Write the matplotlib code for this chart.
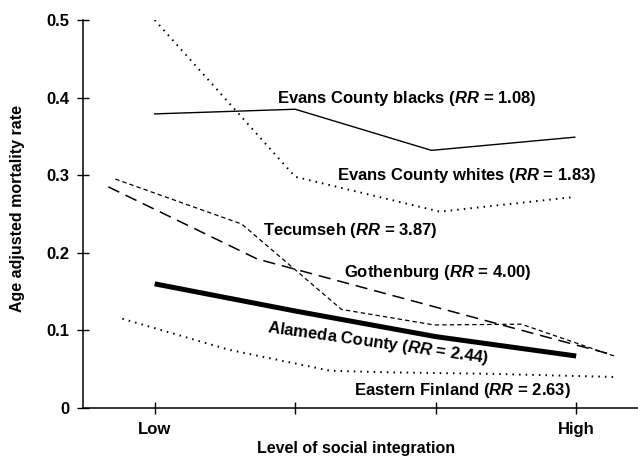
import numpy as np
import matplotlib.pyplot as plt

plt.rcParams['font.family'] = ['Liberation Sans', 'DejaVu Sans']
plt.rcParams['font.weight'] = 'bold'
plt.rcParams['mathtext.fontset'] = 'custom'
plt.rcParams['mathtext.it'] = 'Liberation Sans:italic:bold'
plt.rcParams['mathtext.rm'] = 'Liberation Sans:bold'

# x runs from Low (1) to High (4)
blacks_x = [1.0, 2.0, 2.97, 3.99]
blacks_y = [0.379, 0.385, 0.332, 0.349]

whites_x = [1.0, 2.0, 3.03, 3.99]
whites_y = [0.50, 0.298, 0.253, 0.272]

tecumseh_x = [0.72, 1.62, 2.33, 2.99, 3.61, 4.27]
tecumseh_y = [0.295, 0.237, 0.127, 0.107, 0.108, 0.067]

gothenburg_x = [0.67, 1.73, 4.27]
gothenburg_y = [0.285, 0.192, 0.068]

alameda_x = [1.0, 2.0, 3.0, 4.0]
alameda_y = [0.160, 0.125, 0.092, 0.067]

finland_x = [0.77, 1.53, 2.25, 2.66, 3.40, 4.27]
finland_y = [0.115, 0.075, 0.048, 0.046, 0.044, 0.040]

fig = plt.figure(figsize=(6.38, 4.57), dpi=100)
ax = fig.add_axes([83/638, 49/457, 1 - 83/638, (408 - 20)/457])

ax.plot(blacks_x, blacks_y, color='black', lw=1.0)
ax.plot(whites_x, whites_y, color='black', lw=1.4, ls=(0, (0.8, 2.6)))
ax.plot(tecumseh_x, tecumseh_y, color='black', lw=0.9, ls=(0, (3.5, 2.5)))
ax.plot(gothenburg_x, gothenburg_y, color='black', lw=1.1, ls=(0, (8, 4.5)))
ax.plot(alameda_x, alameda_y, color='black', lw=3.6, solid_capstyle='butt')
ax.plot(finland_x, finland_y, color='black', lw=1.4, ls=(0, (0.8, 2.6)))

fs = 12
ax.text(1.87, 0.399, 'Evans County blacks ($RR$ = 1.08)', fontsize=fs,
        va='center', ha='left')
ax.text(2.30, 0.300, 'Evans County whites ($RR$ = 1.83)', fontsize=fs,
        va='center', ha='left')
ax.text(1.77, 0.229, 'Tecumseh ($RR$ = 3.87)', fontsize=fs,
        va='center', ha='left')
ax.text(2.35, 0.175, 'Gothenburg ($RR$ = 4.00)', fontsize=fs,
        va='center', ha='left')
ax.text(2.59, 0.084, 'Alameda County ($RR$ = 2.44)', fontsize=fs,
        va='center', ha='center', rotation=-8)
ax.text(2.42, 0.023, 'Eastern Finland ($RR$ = 2.63)', fontsize=fs,
        va='center', ha='left')

ax.set_xlim(0.49, 4.44)
ax.set_ylim(0, 0.5)
ax.set_xticks([1, 2, 3, 4])
ax.set_xticklabels(['Low', '', '', 'High'])
ax.set_yticks([0, 0.1, 0.2, 0.3, 0.4, 0.5])
ax.set_yticklabels(['0', '0.1', '0.2', '0.3', '0.4', '0.5'])
ax.tick_params(direction='inout', length=8, width=1, labelsize=12, pad=6)

for side in ['top', 'right']:
    ax.spines[side].set_visible(False)
for side in ['left', 'bottom']:
    ax.spines[side].set_linewidth(1.1)

fig.text(18/638, 1 - 209/457, 'Age adjusted mortality rate', fontsize=11.5,
         rotation=90, ha='center', va='center')
fig.text(356/638, 1/457, 'Level of social integration', fontsize=11.5,
         ha='center', va='bottom')

plt.savefig('out.png', dpi=100)
plt.close('all')
